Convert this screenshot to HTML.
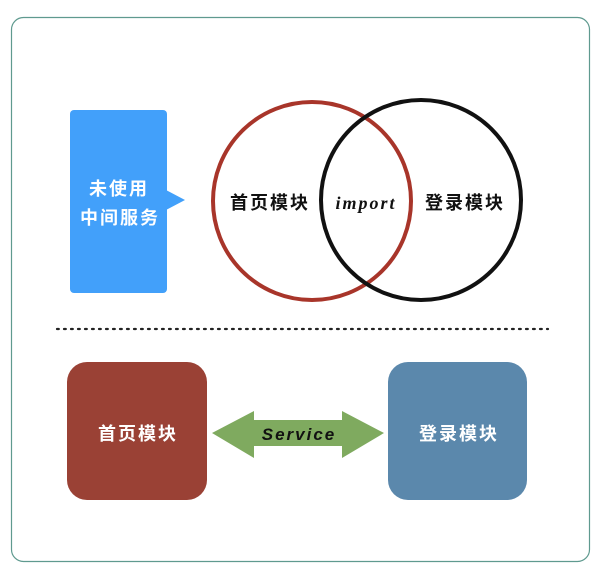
<!DOCTYPE html>
<html><head><meta charset="utf-8"><style>
body{margin:0;width:600px;height:576px;background:#fff;overflow:hidden}
</style></head><body>
<svg width="600" height="576" xmlns="http://www.w3.org/2000/svg" style="position:absolute;left:0;top:0">
<rect x="11.5" y="17.5" width="578" height="544" rx="12" fill="#fff" stroke="#5f9a8f" stroke-width="1.2"/>
<rect x="70" y="110" width="97" height="183" rx="4" fill="#42a0fa"/>
<polygon points="166,190 185,200 166,210" fill="#42a0fa"/>
<g font-family="Liberation Sans, Noto Sans CJK SC, sans-serif" font-size="18" font-weight="bold" text-anchor="middle" letter-spacing="2">
<text x="119" y="195" fill="#fff">未使用</text>
<text x="120" y="224" fill="#fff">中间服务</text>
</g>
<circle cx="312" cy="201" r="99" fill="none" stroke="#a8352a" stroke-width="4"/>
<circle cx="421" cy="200" r="100" fill="none" stroke="#111" stroke-width="4"/>
<g font-family="Liberation Sans, Noto Sans CJK SC, sans-serif" font-size="18" font-weight="bold" fill="#111" letter-spacing="2">
<text x="230" y="209">首页模块</text>
<text x="425" y="209">登录模块</text>
</g>
<text x="366" y="209" font-family="Liberation Serif, serif" font-style="italic" font-weight="bold" font-size="18" letter-spacing="2" text-anchor="middle" fill="#111">import</text>
<line x1="57" y1="329" x2="548" y2="329" stroke="#222" stroke-width="2.2" stroke-dasharray="1.8 5.2" stroke-linecap="round"/>
<rect x="67" y="362" width="140" height="138" rx="20" fill="#9a4135"/>
<rect x="388" y="362" width="139" height="138" rx="20" fill="#5b88ac"/>
<polygon points="212,433 254,411 254,420 342,420 342,411 384,433 342,458 342,446 254,446 254,458" fill="#7faa5f"/>
<text x="299" y="440" font-family="Liberation Sans, sans-serif" font-style="italic" font-weight="bold" font-size="17" letter-spacing="2" text-anchor="middle" fill="#111">Service</text>
<g font-family="Liberation Sans, Noto Sans CJK SC, sans-serif" font-size="18" font-weight="bold" fill="#fff" text-anchor="middle" letter-spacing="2">
<text x="138" y="440">首页模块</text>
<text x="459" y="440">登录模块</text>
</g>
</svg>
</body></html>
